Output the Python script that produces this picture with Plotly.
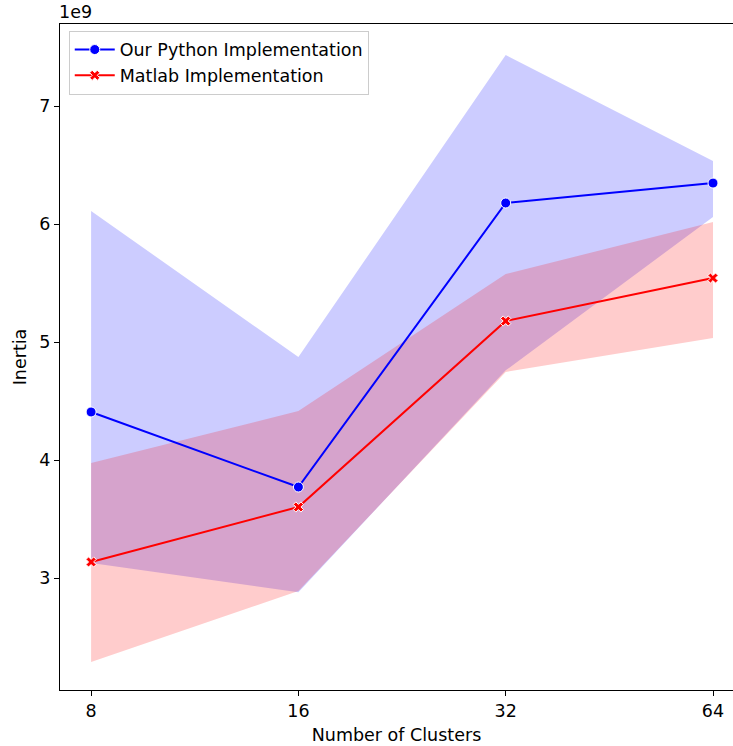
import plotly.graph_objects as go
import math

clusters = [8, 16, 32, 64]
tick_labels = ["8", "16", "32", "64"]

python_mean = [4.407, 3.771, 6.178, 6.347]
python_upper = [6.110, 4.873, 7.432, 6.534]
python_lower = [3.127, 2.880, 4.760, 6.059]

matlab_mean = [3.136, 3.602, 5.178, 5.542]
matlab_upper = [3.975, 4.415, 5.576, 6.017]
matlab_lower = [2.288, 2.890, 4.746, 5.034]

FONT = "DejaVu Sans"
FS = 17.5

fig = go.Figure()

def band(upper, lower, color):
    return go.Scatter(
        x=clusters + clusters[::-1],
        y=upper + lower[::-1],
        fill="toself",
        fillcolor=color,
        line=dict(width=0),
        mode="lines",
        hoverinfo="skip",
        showlegend=False,
    )

fig.add_trace(band(python_upper, python_lower, "rgba(0,0,255,0.2)"))
fig.add_trace(band(matlab_upper, matlab_lower, "rgba(255,0,0,0.2)"))

fig.add_trace(go.Scatter(
    x=clusters, y=python_mean, mode="lines+markers",
    name="Our Python Implementation",
    line=dict(color="blue", width=2),
    marker=dict(symbol="circle", size=10, color="blue", line=dict(color="white", width=1)),
))
fig.add_trace(go.Scatter(
    x=clusters, y=matlab_mean, mode="lines+markers",
    name="Matlab Implementation",
    line=dict(color="red", width=2),
    marker=dict(symbol="x", size=9, color="red", line=dict(color="white", width=1)),
))

fig.update_layout(
    width=733, height=746,
    margin=dict(l=60, r=0, t=24, b=56, autoexpand=False),
    paper_bgcolor="white", plot_bgcolor="white",
    font=dict(family=FONT, size=FS, color="black"),
    legend=dict(
        x=0.013, y=0.99, xanchor="left", yanchor="top",
        bgcolor="rgba(255,255,255,0.8)", bordercolor="#cccccc", borderwidth=1,
        font=dict(family=FONT, size=FS),
        tracegroupgap=0, itemwidth=40,
    ),
    xaxis=dict(
        type="log", automargin=False,
        range=[2.85 * math.log10(2), 6.0965 * math.log10(2)],
        tickvals=clusters, ticktext=tick_labels,
        showgrid=False, zeroline=False,
        showline=True, linecolor="black", linewidth=1, mirror=True,
        ticks="outside", ticklen=5, tickcolor="black",
        title=dict(text="Number of Clusters", standoff=8, font=dict(size=FS)),
        tickfont=dict(size=FS),
    ),
    yaxis=dict(
        range=[2.051, 7.695], automargin=False,
        tickvals=[3, 4, 5, 6, 7],
        showgrid=False, zeroline=False,
        showline=True, linecolor="black", linewidth=1, mirror=False,
        ticks="outside", ticklen=5, tickcolor="black",
        title=dict(text="Inertia", standoff=8, font=dict(size=FS)),
        tickfont=dict(size=FS),
    ),
    annotations=[dict(
        text="1e9", xref="paper", yref="paper", x=0, y=1,
        xanchor="left", yanchor="bottom", showarrow=False,
        font=dict(family=FONT, size=FS), xshift=-3,
    )],
)

fig.write_html(
    "out.html",
    config={"displayModeBar": False},
    post_script="document.body.style.margin='0';document.body.style.overflow='hidden';",
)
